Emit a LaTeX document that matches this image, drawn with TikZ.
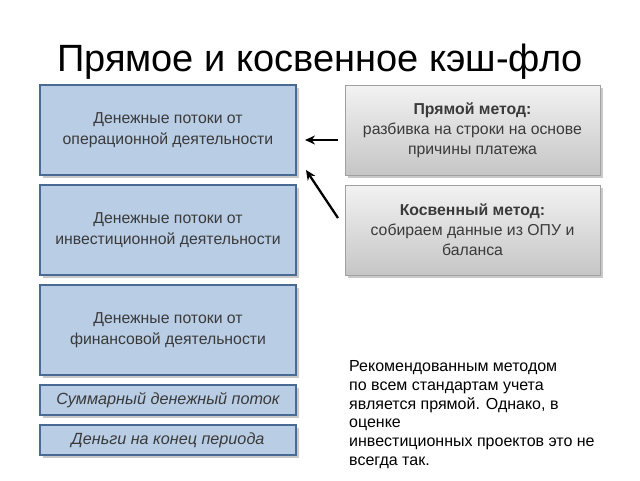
\documentclass[tikz,border=0pt]{standalone}
\usepackage{fontspec}
\setmainfont{Liberation Sans}
\usetikzlibrary{shadows,arrows.meta}
\definecolor{boxblue}{HTML}{B9CDE5}
\definecolor{edgeblue}{HTML}{4A6A96}
\definecolor{txtgray}{HTML}{3A3A3A}
\definecolor{edgegray}{HTML}{A0A0A0}
\begin{document}
\begin{tikzpicture}[x=1pt,y=-1pt,
  bluebox/.style={draw=edgeblue,line width=1.6pt,fill=boxblue,minimum width=256pt,
    align=center,text=txtgray,font=\fontsize{15.8}{20.5}\selectfont,
    drop shadow={shadow xshift=2.5pt,shadow yshift=-2.5pt,opacity=0.35,fill=black!60}},
  graybox/.style={draw=edgegray,line width=0.8pt,top color=gray!10,bottom color=gray!45,
    minimum width=255pt,minimum height=90pt,align=center,text=txtgray,
    font=\fontsize{15.8}{20}\selectfont,
    drop shadow={shadow xshift=2.5pt,shadow yshift=-2.5pt,opacity=0.35,fill=black!60}},
  arr/.style={-{Stealth[length=10pt,width=9pt]},line width=2.3pt,black}]
\useasboundingbox (0,0) rectangle (640,480);
\fill[white] (0,0) rectangle (640,480);
\node[font=\fontsize{38}{44}\selectfont,text=black] (title) at (320,62) {Прямое и косвенное кэш-фло};
\node[bluebox,minimum height=90pt] (b1) at (168,130) {Денежные потоки от\\операционной деятельности};
\node[bluebox,minimum height=90pt] (b2) at (168,230) {Денежные потоки от\\инвестиционной деятельности};
\node[bluebox,minimum height=90pt] (b3) at (168,330) {Денежные потоки от\\финансовой деятельности};
\node[bluebox,minimum height=30pt,font=\itshape\fontsize{16.2}{19}\selectfont] (b4) at (168,400) {Суммарный денежный поток};
\node[bluebox,minimum height=30pt,font=\itshape\fontsize{16.2}{19}\selectfont] (b5) at (168,440) {Деньги на конец периода};
\node[graybox] (g1) at (472.5,130) {\textbf{Прямой метод:}\\разбивка на строки на основе\\причины платежа};
\node[graybox] (g2) at (472.5,230) {\textbf{Косвенный метод:}\\собираем данные из ОПУ и\\баланса};
\coordinate (a1s) at (338,140);
\coordinate (a1e) at (305,140);
\coordinate (a2s) at (338,218);
\coordinate (a2e) at (306,170);
\draw[arr] (a1s) -- (a1e);
\draw[arr] (a2s) -- (a2e);
\node[anchor=north west,align=left,text=black,font=\fontsize{16}{18.9}\selectfont,inner sep=0pt] (note) at (349,360)
 {Рекомендованным методом\\по всем стандартам учета\\является прямой. Однако, в\\оценке\\инвестиционных проектов это не\\всегда так.};
\end{tikzpicture}
\end{document}
